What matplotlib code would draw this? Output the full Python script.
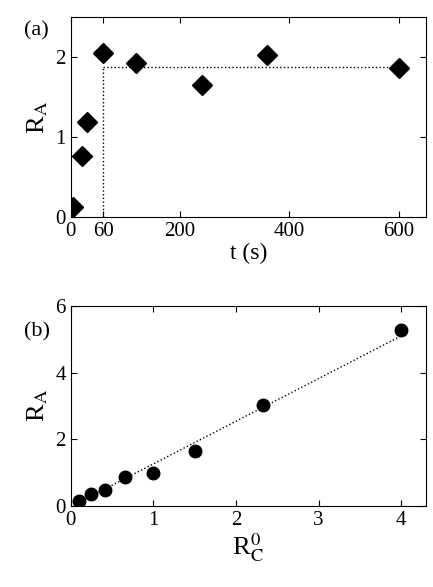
import matplotlib; matplotlib.use("Agg")
import matplotlib.pyplot as plt
import numpy as np

plt.rcParams['font.family'] = ['Liberation Serif', 'DejaVu Serif']
plt.rcParams['mathtext.fontset'] = 'stix'

# (a) R_A vs time
t = [5, 20, 30, 60, 120, 240, 360, 600]
ra_t = [0.125, 0.76, 1.19, 2.05, 1.93, 1.65, 2.03, 1.86]
plateau = 1.87

# (b) R_A vs R_C^0
rc = [0.1, 0.25, 0.42, 0.66, 1.0, 1.5, 2.33, 4.0]
ra_rc = [0.16, 0.35, 0.48, 0.88, 1.0, 1.66, 3.03, 5.28]
ra_err = [0, 0, 0, 0, 0, 0, 0, 0.15]
slope, icpt = 1.28, -0.02

fig = plt.figure(figsize=(4.33, 5.87), dpi=100)
ax1 = fig.add_axes([0.163, 0.630, 0.821, 0.341])
ax2 = fig.add_axes([0.163, 0.138, 0.821, 0.341])

ax1.plot([60, 60], [0, plateau], 'k:', lw=1)
ax1.plot([60, 600], [plateau, plateau], 'k:', lw=1)
ax1.plot(t, ra_t, 'kD', ms=10)
ax1.set_xlim(0, 650); ax1.set_ylim(0, 2.5)
ax1.set_xticks([0, 60, 200, 400, 600]); ax1.set_yticks([0, 1, 2])
ax1.set_xlabel('t (s)', fontsize=17, labelpad=1)
ax1.set_ylabel(r'R$_\mathrm{A}$', fontsize=19, labelpad=4)
ax1.text(-0.13, 0.93, '(a)', transform=ax1.transAxes, fontsize=16, va='center')

xs = np.array([rc[0], rc[-1]])
ax2.plot(xs, slope*xs + icpt, 'k:', lw=1)
ax2.errorbar(rc, ra_rc, yerr=ra_err, fmt='ko', ms=9, capsize=2, elinewidth=1)
ax2.set_xlim(0, 4.3); ax2.set_ylim(0, 6)
ax2.set_xticks([0, 1, 2, 3, 4]); ax2.set_yticks([0, 2, 4, 6])
ax2.set_xlabel(r'R$_\mathrm{C}^\mathrm{0}$', fontsize=19, labelpad=1)
ax2.set_ylabel(r'R$_\mathrm{A}$', fontsize=19, labelpad=4)
ax2.text(-0.13, 0.87, '(b)', transform=ax2.transAxes, fontsize=16, va='center')

for ax in (ax1, ax2):
    ax.tick_params(direction='in', top=True, right=True, labelsize=15, length=4)

fig.savefig('out.png', dpi=100)
